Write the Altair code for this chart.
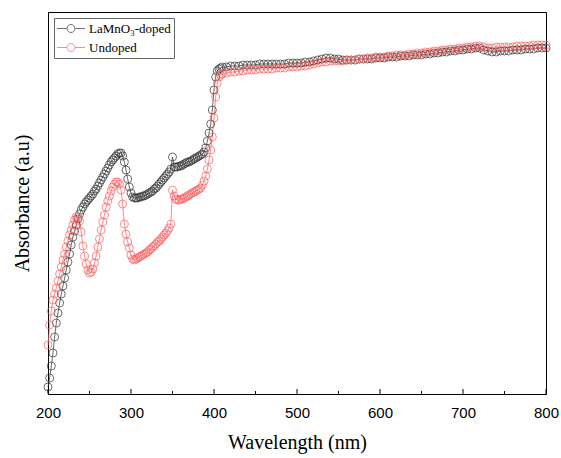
import altair as alt
import pandas as pd

# ---------------- data ----------------
series_names = ["LaMnO₃-doped", "Undoped"]
series_colors = ["#333333", "#ff5c5c"]

# wavelength grids (nm)
wl_uv = list(range(200, 411, 2))   # 200..410 every 2 nm
wl_vis = list(range(415, 801, 5))  # 415..800 every 5 nm

doped_uv = [
    0.07, 0.16, 0.28, 0.41, 0.57, 0.71, 0.81, 0.91, 1.00, 1.08,  # 200-218
    1.16, 1.24, 1.32, 1.40, 1.49, 1.57, 1.63, 1.69, 1.75, 1.80,  # 220-238
    1.84, 1.87, 1.90, 1.92, 1.94, 1.96, 1.98, 2.00, 2.03, 2.05,  # 240-258
    2.08, 2.11, 2.14, 2.17, 2.20, 2.23, 2.26, 2.29, 2.32, 2.34,  # 260-278
    2.36, 2.38, 2.40, 2.41, 2.41, 2.38, 2.32, 2.24, 2.15, 2.07,  # 280-298
    2.01, 1.97, 1.96, 1.96, 1.96, 1.97, 1.97, 1.98, 1.98, 1.99,  # 300-318
    2.00, 2.01, 2.02, 2.03, 2.05, 2.06, 2.08, 2.10, 2.12, 2.14,  # 320-338
    2.16, 2.18, 2.20, 2.22, 2.25, 2.37, 2.27, 2.27, 2.27, 2.28,  # 340-358
    2.28, 2.29, 2.30, 2.31, 2.32, 2.32, 2.33, 2.34, 2.35, 2.36,  # 360-378
    2.37, 2.38, 2.39, 2.40, 2.42, 2.46, 2.53, 2.61, 2.70, 2.84,  # 380-398
    3.04, 3.17, 3.23, 3.25, 3.26, 3.27,                          # 400-410
]
doped_vis = [
    3.27, 3.28, 3.28, 3.28, 3.29, 3.29, 3.29, 3.29, 3.30, 3.30,  # 415-460
    3.30, 3.30, 3.30, 3.30, 3.30, 3.31, 3.31, 3.31, 3.31, 3.32,  # 465-510
    3.32, 3.33, 3.34, 3.35, 3.36, 3.36, 3.35, 3.35, 3.34, 3.34,  # 515-560
    3.34, 3.34, 3.35, 3.35, 3.35, 3.35, 3.36, 3.36, 3.36, 3.37,  # 565-610
    3.37, 3.37, 3.38, 3.38, 3.38, 3.39, 3.39, 3.39, 3.40, 3.40,  # 615-660
    3.41, 3.41, 3.42, 3.42, 3.43, 3.43, 3.44, 3.44, 3.45, 3.45,  # 665-710
    3.46, 3.46, 3.44, 3.43, 3.42, 3.42, 3.43, 3.43, 3.43, 3.44,  # 715-760
    3.44, 3.44, 3.45, 3.45, 3.45, 3.46, 3.46, 3.46,              # 765-800
]

undoped_uv = [
    0.49, 0.69, 0.83, 0.94, 1.00, 1.06, 1.13, 1.20, 1.27, 1.34,  # 200-218
    1.40, 1.47, 1.53, 1.59, 1.64, 1.69, 1.74, 1.77, 1.77, 1.73,  # 220-238
    1.62, 1.48, 1.38, 1.30, 1.24, 1.21, 1.22, 1.25, 1.31, 1.38,  # 240-258
    1.47, 1.55, 1.64, 1.72, 1.79, 1.87, 1.93, 1.98, 2.03, 2.07,  # 260-278
    2.10, 2.12, 2.12, 2.10, 2.04, 1.90, 1.70, 1.60, 1.52, 1.46,  # 280-298
    1.39, 1.35, 1.34, 1.35, 1.36, 1.37, 1.38, 1.39, 1.40, 1.41,  # 300-318
    1.42, 1.44, 1.45, 1.47, 1.48, 1.50, 1.52, 1.53, 1.55, 1.57,  # 320-338
    1.59, 1.61, 1.63, 1.66, 1.70, 2.04, 1.98, 1.95, 1.94, 1.94,  # 340-358
    1.95, 1.95, 1.96, 1.97, 1.98, 1.99, 2.00, 2.01, 2.02, 2.03,  # 360-378
    2.04, 2.05, 2.06, 2.09, 2.13, 2.18, 2.25, 2.34, 2.44, 2.57,  # 380-398
    2.76, 2.97, 3.11, 3.17, 3.19, 3.20,                          # 400-410
]
undoped_vis = [
    3.21, 3.22, 3.22, 3.23, 3.23, 3.24, 3.24, 3.24, 3.25, 3.25,  # 415-460
    3.25, 3.25, 3.26, 3.26, 3.26, 3.27, 3.27, 3.27, 3.28, 3.28,  # 465-510
    3.29, 3.30, 3.31, 3.32, 3.32, 3.33, 3.33, 3.33, 3.33, 3.34,  # 515-560
    3.34, 3.34, 3.35, 3.35, 3.36, 3.36, 3.37, 3.37, 3.37, 3.38,  # 565-610
    3.38, 3.39, 3.39, 3.39, 3.40, 3.40, 3.41, 3.41, 3.42, 3.42,  # 615-660
    3.43, 3.43, 3.44, 3.44, 3.45, 3.45, 3.46, 3.46, 3.47, 3.47,  # 665-710
    3.48, 3.48, 3.47, 3.46, 3.46, 3.47, 3.47, 3.47, 3.47, 3.47,  # 715-760
    3.48, 3.48, 3.48, 3.48, 3.49, 3.49, 3.49, 3.49,              # 765-800
]

major_ticks = [200, 300, 400, 500, 600, 700, 800]
minor_ticks = [250, 350, 450, 550, 650, 750]

# ---------------- table ----------------
rows = []
for name, uv, vis in [
    (series_names[0], doped_uv, doped_vis),
    (series_names[1], undoped_uv, undoped_vis),
]:
    for w, a in zip(wl_uv + wl_vis, uv + vis):
        rows.append({"wavelength": w, "absorbance": a, "series": name})
df = pd.DataFrame(rows)

major_df = pd.DataFrame({"wavelength": major_ticks})
minor_df = pd.DataFrame({"wavelength": minor_ticks})

W, H = 498, 382
SERIF = "Liberation Serif"

x_enc = alt.X(
    "wavelength:Q",
    scale=alt.Scale(domain=[200, 800], nice=False),
    axis=alt.Axis(
        values=major_ticks, format="d", ticks=False, grid=False,
        domainColor="black", labelFlush=False,
        labelFont="Liberation Sans", labelFontSize=15, labelColor="black",
        labelPadding=11,
        title="Wavelength (nm)", titleFont=SERIF, titleFontSize=20,
        titleFontWeight="normal", titleColor="black", titlePadding=12,
    ),
)
y_enc = alt.Y(
    "absorbance:Q",
    scale=alt.Scale(domain=[0, 3.82], nice=False, zero=False),
    axis=alt.Axis(
        labels=False, ticks=False, grid=False, domainColor="black",
        title="Absorbance (a.u)", titleFont=SERIF, titleFontSize=20,
        titleFontWeight="normal", titleColor="black", titlePadding=16,
    ),
)

# line-with-open-circle legend glyph (unit coordinates, scaled by the legend)
legend_symbol = (
    "M-1.07,0L0.36,0M1.5,0L2.93,0"
    "M1.5,0A0.57,0.57,0,1,1,0.36,0A0.57,0.57,0,1,1,1.5,0"
)

base = alt.Chart(df)


def series_line(name, colour):
    return (
        base.transform_filter(alt.datum.series == name)
        .mark_line(strokeWidth=0.8, opacity=0.9, color=colour)
        .encode(x=x_enc, y=y_enc)
    )


line_doped = series_line(series_names[0], series_colors[0])
line_undoped = series_line(series_names[1], series_colors[1])

points = base.mark_point(filled=False, size=64, strokeWidth=1).encode(
    x=x_enc,
    y=y_enc,
    color=alt.Color(
        "series:N",
        scale=alt.Scale(domain=series_names, range=series_colors),
        sort=series_names,
        legend=alt.Legend(
            orient="none", legendX=6, legendY=6, title=None,
            strokeColor="#666666", fillColor="white", padding=3,
            labelFont=SERIF, labelFontSize=13, labelColor="black",
            labelOffset=17, rowPadding=4,
            symbolType=legend_symbol, symbolSize=196, symbolStrokeWidth=1,
        ),
    ),
)

major = alt.Chart(major_df).mark_rule(color="black", strokeWidth=1).encode(
    x="wavelength:Q", y=alt.value(H), y2=alt.value(H - 5)
)
minor = alt.Chart(minor_df).mark_rule(color="black", strokeWidth=1).encode(
    x="wavelength:Q", y=alt.value(H), y2=alt.value(H - 3)
)

chart = (
    alt.layer(line_doped, line_undoped, points, major, minor)
    .properties(
        width=W,
        height=H,
        padding={"left": 48, "top": 12, "right": 15, "bottom": 64},
        autosize=alt.AutoSizeParams(type="none"),
        background="white",
    )
    .configure_view(stroke="black", strokeWidth=1)
)

chart.save("out.html", embed_options={"renderer": "svg", "actions": False})
